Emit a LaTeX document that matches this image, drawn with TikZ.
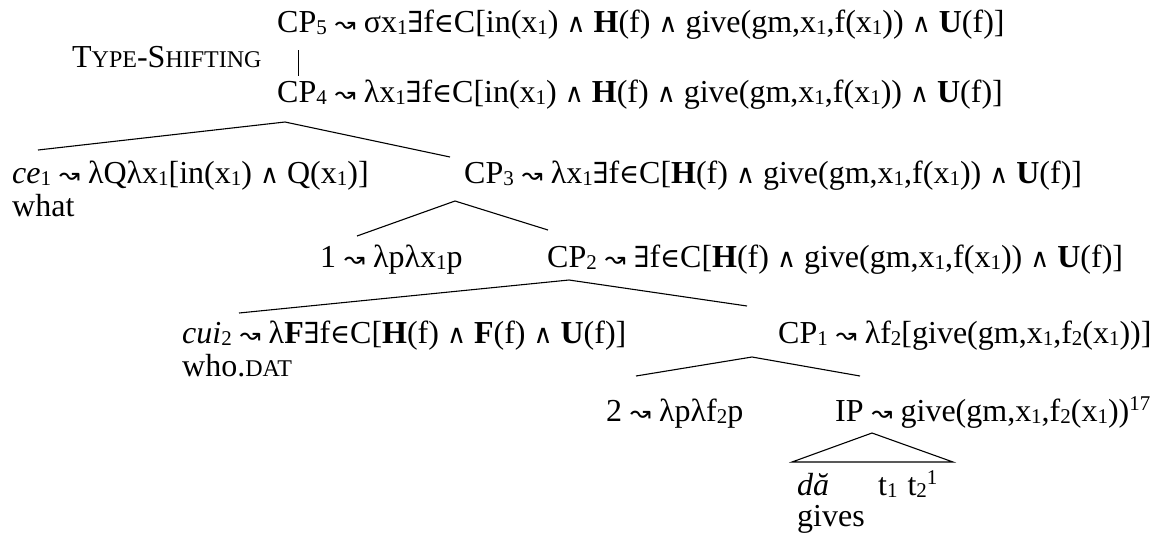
\documentclass[tikz,border=0pt]{standalone}
\usepackage{fontspec}
\setmainfont{Liberation Serif}
\newfontfamily\symsans{DejaVu Sans}
\newfontfamily\symserif{DejaVu Serif}
\newcommand\mysub[1]{\raisebox{-2.8pt}{\fontsize{21}{21}\selectfont #1}}
\newcommand\mysup[1]{\raisebox{11pt}{\fontsize{21}{21}\selectfont #1}}
\newcommand\qSq{{\symsans\fontsize{25}{25}\selectfont ↝}}
\newcommand\qE{{\symserif\fontsize{29}{29}\selectfont ∃}}
\newcommand\qIn{{\symserif\fontsize{27}{27}\selectfont ∈}}
\newcommand\qAnd{{\symserif\fontsize{26}{26}\selectfont ∧}}
\newcommand\fsc[1]{{\fontsize{24}{24}\selectfont #1}}
\begin{document}
\begin{tikzpicture}[x=1pt,y=-1pt,
  lbl/.style={anchor=base west,inner sep=0pt,font=\fontsize{32}{36}\selectfont},
  br/.style={line width=1.1pt},
  thin bar/.style={line width=0.9pt}]
\useasboundingbox (0,0) rectangle (1160,542);
% labels
\node[lbl] (cp5) at (277,32) {CP\mysub{5} \qSq{} σx\mysub{1}\qE f\qIn C[in(x\mysub{1}) \qAnd{} \textbf{H}(f) \qAnd{} give(gm,x\mysub{1},f(x\mysub{1})) \qAnd{} \textbf{U}(f)]};
\node[lbl] (ts) at (72,67) {T\fsc{YPE}-S\fsc{HIFTING}};
\node[lbl] (cp4) at (277,102) {CP\mysub{4} \qSq{} λx\mysub{1}\qE f\qIn C[in(x\mysub{1}) \qAnd{} \textbf{H}(f) \qAnd{} give(gm,x\mysub{1},f(x\mysub{1})) \qAnd{} \textbf{U}(f)]};
\node[lbl] (ce) at (12,183) {\textit{ce}\mysub{1} \qSq{} λQλx\mysub{1}[in(x\mysub{1}) \qAnd{} Q(x\mysub{1})]};
\node[lbl] (what) at (12,216) {what};
\node[lbl] (cp3) at (464,183) {CP\mysub{3} \qSq{} λx\mysub{1}\qE f\qIn C[\textbf{H}(f) \qAnd{} give(gm,x\mysub{1},f(x\mysub{1})) \qAnd{} \textbf{U}(f)]};
\node[lbl] (one) at (320,267) {1 \qSq{} λpλx\mysub{1}p};
\node[lbl] (cp2) at (547,267) {CP\mysub{2} \qSq{} \qE f\qIn C[\textbf{H}(f) \qAnd{} give(gm,x\mysub{1},f(x\mysub{1})) \qAnd{} \textbf{U}(f)]};
\node[lbl] (cui) at (182,343) {\textit{cui}\mysub{2} \qSq{} λ\textbf{F}\qE f\qIn C[\textbf{H}(f) \qAnd{} \textbf{F}(f) \qAnd{} \textbf{U}(f)]};
\node[lbl] (whodat) at (182,376) {who.\fsc{DAT}};
\node[lbl] (cp1) at (778,343) {CP\mysub{1} \qSq{} λf\mysub{2}[give(gm,x\mysub{1},f\mysub{2}(x\mysub{1}))]};
\node[lbl] (two) at (606,421) {2 \qSq{} λpλf\mysub{2}p};
\node[lbl] (ip) at (835,421) {IP \qSq{} give(gm,x\mysub{1},f\mysub{2}(x\mysub{1}))\mysup{17}};
\node[lbl] (da) at (797,495) {\textit{dă}};
\node[lbl] (tt) at (878,495) {t\mysub{1}\hspace{10pt}t\mysub{2}\mysup{1}};
\node[lbl] (gives) at (797,526) {gives};
% branch points
\coordinate (bt) at (298,50); \coordinate (bb) at (298,76);
\coordinate (a4) at (285,122); \coordinate (l4) at (38,150); \coordinate (r4) at (450,157);
\coordinate (a3) at (455,201); \coordinate (l3) at (357,236); \coordinate (r3) at (548,230);
\coordinate (a2) at (569,280); \coordinate (l2) at (239,313); \coordinate (r2) at (747,306);
\coordinate (a1) at (752,357); \coordinate (l1) at (636,376); \coordinate (r1) at (860,376);
\coordinate (ai) at (872,433); \coordinate (li) at (792,462); \coordinate (ri) at (953,462);
\draw[thin bar] (bt) -- (bb);
\draw[br] (l4) -- (a4) -- (r4);
\draw[br] (l3) -- (a3) -- (r3);
\draw[br] (l2) -- (a2) -- (r2);
\draw[br] (l1) -- (a1) -- (r1);
\draw[br] (li) -- (ai) -- (ri) -- cycle;
\end{tikzpicture}
\end{document}
